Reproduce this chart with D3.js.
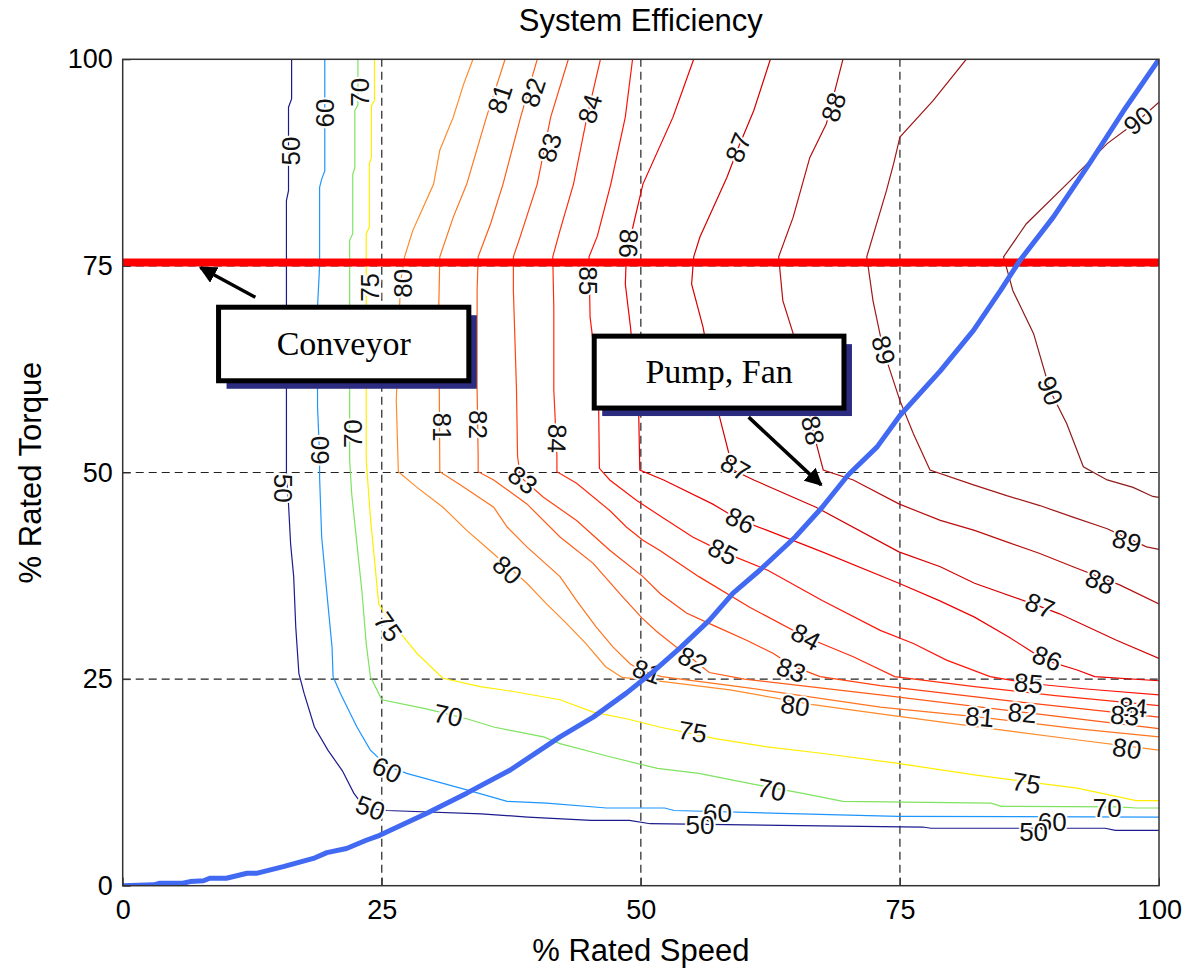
<!DOCTYPE html>
<html>
<head>
<meta charset="utf-8">
<script src="https://cdn.jsdelivr.net/npm/d3@7"></script>
<style>
  html, body { margin: 0; padding: 0; background: #fff; }
  svg { display: block; font-family: "Liberation Sans", Arial, Helvetica, sans-serif; }
</style>
</head>
<body>
<svg id="chart" width="1188" height="970"></svg>
<script>
// ---------------- DATA ----------------
const xTicks = [0, 25, 50, 75, 100];
const yTicks = [0, 25, 50, 75, 100];
const gridValues = [25, 50, 75];

const levels = [50, 60, 70, 75, 80, 81, 82, 83, 84, 85, 86, 87, 88, 89, 90];

const c50 = [[16.3,100],[16.3,95.2],[16.0,94.2],[16.0,84.1],[15.8,82.9],[15.8,50],[16.0,46.2],[16.2,41.4],[16.5,37.4],[16.7,31.3],[17.0,25.7],[17.5,23.3],[18.5,19.2],[19.8,16.4],[21.2,13.9],[22.3,11.2],[23.0,10.0],[24.0,9.3],[25.5,9.1],[34.6,8.7],[39.1,8.3],[45.2,7.9],[48.9,7.9],[50.9,7.5],[63.5,7.3],[77.2,7.1],[78.0,6.95],[94.8,6.95],[95.8,6.7],[100,6.7]];
const c60 = [[19.5,100],[19.5,86.5],[19.2,85.5],[19.0,84.5],[19.0,75],[18.8,70],[18.8,58],[19.0,52],[19.0,49.4],[19.2,42.2],[19.8,34.1],[20.2,28.9],[20.3,25.3],[21.0,23.3],[22.6,19.2],[23.9,16.4],[25.5,14.5],[27.4,13.6],[30.3,12.6],[33.2,11.6],[37.1,10.2],[40.9,10.0],[46.7,9.4],[52.3,9.4],[53.2,9.1],[63.5,8.75],[74.8,8.4],[100,8.3]];
const c70 = [[22.7,100],[22.7,94.5],[22.4,93.8],[22.4,86.9],[22.2,86.1],[22.2,78.9],[21.9,78.1],[21.9,51.5],[22.1,47.4],[22.6,41.4],[23.1,35.4],[23.5,29.3],[23.9,25.3],[25.0,22.5],[29.3,21.4],[33.2,20.2],[35.8,19.2],[40.6,18.0],[42.2,17.2],[47.0,15.6],[51.6,14.2],[55.6,13.6],[61.2,12.2],[65.5,11.2],[69.5,10.2],[83.8,10.0],[84.8,9.6],[96.1,9.55],[97.8,9.4],[100,9.4]];
const c75 = [[24.3,100],[24.3,95],[24.0,94.4],[24.0,88.1],[23.8,87.4],[23.8,79.7],[23.5,78.9],[23.5,51.5],[23.9,44.6],[24.3,39.4],[24.7,34.1],[25.5,32.5],[27.1,30.1],[28.4,28.1],[30.9,25.1],[34.5,24.1],[37.7,23.5],[42.2,22.5],[45.4,21.0],[48.6,20.2],[51.8,19.2],[57.2,17.8],[62.2,16.8],[67.6,16.0],[74.8,14.8],[82.2,13.4],[92.1,11.8],[97.8,10.3],[100,10.3]];
const c80 = [[33.8,100],[32.9,97.0],[31.9,93.0],[30.6,89.0],[30.0,84.9],[29.0,82.1],[28.0,79.3],[27.2,76.1],[26.8,72.9],[26.4,58.7],[26.6,50.1],[28.4,48.2],[30.9,45.8],[33.2,43.0],[35.4,40.6],[39.0,36.6],[40.9,34.1],[42.7,31.9],[44.7,29.3],[46.6,26.5],[48.2,25.2],[52.2,24.7],[58.6,23.7],[66.6,21.9],[73.1,20.8],[82.7,19.2],[92.4,17.6],[100,16.4]];
const c81 = [[36.9,100],[35.1,93.0],[33.2,84.9],[31.9,80.9],[30.6,76.1],[30.5,70],[30.6,50.1],[32.6,48.5],[35.8,45.8],[37.1,43.4],[39.0,41.0],[42.2,37.4],[43.8,34.5],[45.7,31.3],[47.3,28.9],[49.0,26.8],[50.2,26.0],[52.0,25.3],[60.0,24.0],[73.1,21.6],[82.7,20.4],[92.0,19.0],[100,18.0]];
const c82 = [[40.0,100],[38.4,93.0],[36.7,84.9],[35.5,80.1],[34.3,76.1],[34.2,72],[34.2,60],[34.3,52],[34.3,50.1],[35.8,49.1],[39.0,46.2],[42.2,42.2],[45.4,39.0],[48.2,35.0],[50.1,32.4],[51.5,30.8],[53.5,28.8],[55.1,27.3],[56.6,25.8],[60.0,25.0],[73.1,23.1],[86.8,21.0],[100,19.0]];
const c83 = [[43.0,100],[41.3,93.0],[40.0,84.9],[38.4,78.7],[37.7,76.1],[37.7,72],[38.0,60],[38.1,52],[38.3,50.1],[38.7,49.1],[40.6,47.0],[43.8,44.2],[47.0,40.6],[50.2,37.4],[51.9,35.3],[54.4,33.0],[57.0,31.5],[60.2,29.7],[62.8,28.1],[64.6,26.6],[67.3,25.3],[73.1,24.2],[86.0,22.3],[100,20.4]];
const c84 = [[46.1,100],[44.8,93.0],[43.5,84.9],[42.2,79.3],[41.5,76.1],[41.6,70],[41.6,60],[41.9,52],[41.9,50.1],[43.8,48.7],[47.0,45.4],[48.6,43.4],[50.2,41.8],[51.8,40.6],[55.6,37.4],[60.5,33.7],[65.9,30.1],[70.5,27.7],[74.5,25.3],[82.2,24.1],[90.0,23.0],[100,21.8]];
const c85 = [[49.2,100],[48.5,93.0],[47.1,84.9],[45.8,78.6],[45.0,76.1],[45.1,68.8],[45.9,60.7],[46.0,50.5],[47.0,49.1],[49.6,46.6],[51.8,44.8],[55.0,42.2],[57.9,40.4],[62.2,38.2],[67.5,34.5],[73.1,30.9],[76.3,29.3],[79.5,27.3],[83.7,25.3],[87.4,24.5],[93.0,23.8],[100,23.1]];
const c86 = [[55.1,100],[53.1,93.0],[50.2,84.9],[49.3,80.1],[48.6,76.1],[48.5,72.8],[49.0,67.6],[49.8,56.7],[49.9,50.3],[52.2,49.1],[56.9,46.2],[59.6,44.2],[62.2,43.0],[67.5,40.4],[74.9,36.6],[78.8,34.5],[82.2,32.5],[85.5,30.1],[89.0,27.3],[92.1,26.1],[93.8,25.3],[100,24.8]];
const c87 = [[62.5,100],[60.9,93.8],[59.4,89.3],[58.3,85.7],[57.0,82.1],[55.7,78.5],[55.1,76.1],[54.9,72.8],[56.0,67.6],[57.6,56.7],[58.9,50.3],[60.9,49.1],[66.9,45.8],[74.9,40.4],[78.9,38.6],[82.2,36.6],[88.5,33.8],[90.4,32.9],[95.9,29.7],[100,27.5]];
const c88 = [[69.5,100],[67.9,92.2],[66.3,88.1],[64.7,80.9],[63.3,76.1],[63.7,70.8],[64.7,66.8],[65.7,60.8],[66.6,55.1],[67.6,50.3],[70.5,49.1],[74.9,46.2],[78.9,44.2],[82.2,43.0],[85.3,41.6],[88.5,40.2],[91.7,38.6],[96.2,36.4],[100,34.1]];
const c89 = [[81.4,100],[78.2,95.0],[75.0,90.6],[74.4,87.4],[73.7,84.1],[71.8,76.1],[72.4,70.8],[73.4,64.8],[75.0,58.7],[76.3,54.7],[77.9,50.3],[82.1,48.5],[85.3,47.2],[88.5,46.0],[91.7,44.6],[95.0,43.2],[98.8,41.0],[100,40.7]];
const c90 = [[100,94.8],[98.0,92.6],[95.0,89.8],[91.1,84.9],[87.2,80.1],[85.0,76.1],[85.9,72.0],[87.9,66.8],[89.5,59.9],[91.1,55.9],[92.7,50.7],[95.0,49.1],[97.5,48.2],[99.4,47.1],[100,47.0]];
const contourLines = [c50, c60, c70, c75, c80, c81, c82, c83, c84, c85, c86, c87, c88, c89, c90];

// contour labels: level, x, y (data units), rotation in degrees
const labelLevels = [50,60,70,75,80,81,82,83,84,85,86,81,82,84,83,87,86,85,84,83,82,81,80,80,75,75,75,70,70,70,60,60,60,50,50,50,60,70,50,81,82,85,86,84,83,80,87,88,89,87,88,89,88,90,90];
const labelX = [16.2,19.5,22.9,23.9,27.0,36.4,39.6,41.2,45.1,44.9,48.8,30.8,34.3,41.9,38.6,59.1,59.6,57.9,65.9,64.5,55.0,50.6,37.1,64.9,25.6,55.0,87.2,31.4,62.6,95.0,25.5,57.4,89.7,23.9,55.7,87.9,19.0,22.2,15.5,82.7,86.8,87.4,89.2,97.5,96.7,96.9,88.5,94.3,96.9,59.4,68.6,73.4,66.6,89.5,98.0];
const labelY = [88.9,93.5,96.0,72.4,72.9,95.2,96.0,89.3,94.0,73.2,77.7,55.5,55.8,54.1,49.1,50.6,44.2,40.4,30.1,26.1,27.3,25.9,38.2,21.8,31.3,18.6,12.4,20.6,11.6,9.4,14.0,8.8,7.7,9.4,7.3,6.5,52.7,54.7,48.1,20.4,20.9,24.5,27.5,21.6,20.6,16.6,33.9,36.8,41.7,89.3,94.2,64.8,55.1,59.9,92.6];
const labelRot = [-90,-90,-90,-90,-90,-72,-72,-74,-74,90,92,90,90,92,37,30,27,27,28,20,27,20,42,9,55,10,10,12,12,0,25,0,0,20,0,0,-90,-90,90,5,5,5,22,5,5,8,22,22,15,-68,-72,75,77,69,-39];

// Operating lines
const conveyorTorque = 75.4;
const pumpSpeed  = [0,3.0,3.6,5.8,6.5,7.8,8.4,10.0,12.0,12.9,15.5,18.4,19.7,21.6,23.5,24.8,29.3,33.2,37.4,42.2,45.4,48.6,51.0,53.9,56.6,58.9,61.5,64.9,67.5,70.0,72.8,75.0,78.9,82.1,84.7,86.6,89.8,93.3,96.6,100];
const pumpTorque = [0,0.1,0.3,0.3,0.5,0.6,0.9,0.9,1.5,1.5,2.3,3.3,4.0,4.5,5.5,6.1,8.75,11.2,14.0,18.0,20.4,23.3,25.7,28.9,32.1,35.4,38.2,42.2,45.8,49.7,53.1,56.9,62.3,67.2,72.0,75.7,80.9,87.4,93.8,100];

// Annotations (data units)
const annotations = [
  { text: "Conveyor",  x0: 9.25, x1: 33.4, y0: 61.1, y1: 70.0, tail: [12.8, 71.2], tip: [7.5, 74.8] },
  { text: "Pump, Fan", x0: 45.5, x1: 69.6, y0: 57.8, y1: 66.5, tail: [60.4, 56.7], tip: [67.4, 48.5] }
];

const levelColors = ["#1c1c8c","#1e96ff","#7ee35f","#ffee00","#ff8a2a","#ff7420","#ff5c18","#ff4410","#ff2c0c","#ff1408","#ee0000","#d40000","#b80e0e","#a01818","#8c1c1c"];

// ---------------- CHART ----------------
const svg = d3.select("#chart");
const x = d3.scaleLinear().domain([0, 100]).range([122.7, 1159]);
const y = d3.scaleLinear().domain([0, 100]).range([885.7, 59.3]);
const color = d3.scaleOrdinal().domain(levels).range(levelColors);

const defs = svg.append("defs");
defs.append("clipPath").attr("id", "plotclip")
  .append("rect").attr("x", x(0)).attr("y", y(100))
  .attr("width", x(100) - x(0)).attr("height", y(0) - y(100));
defs.append("marker")
  .attr("id", "arrowhead").attr("viewBox", "0 0 10 10")
  .attr("refX", 9).attr("refY", 5)
  .attr("markerWidth", 5).attr("markerHeight", 5)
  .attr("markerUnits", "strokeWidth")
  .attr("orient", "auto")
  .append("path").attr("d", "M0,0 L10,5 L0,10 z").attr("fill", "#000");

const plot = svg.append("g").attr("clip-path", "url(#plotclip)");

// grid (dashed)
plot.selectAll("line.gx").data(gridValues).join("line")
  .attr("class", "gx")
  .attr("x1", d => x(d)).attr("x2", d => x(d))
  .attr("y1", y(0)).attr("y2", y(100))
  .attr("stroke", "#222").attr("stroke-width", 1.2).attr("stroke-dasharray", "8,5");
plot.selectAll("line.gy").data(gridValues).join("line")
  .attr("class", "gy")
  .attr("y1", d => y(d)).attr("y2", d => y(d))
  .attr("x1", x(0)).attr("x2", x(100))
  .attr("stroke", "#222").attr("stroke-width", 1.2).attr("stroke-dasharray", "8,5");

// contour lines
const line = d3.line().x(d => x(d[0])).y(d => y(d[1]));
plot.selectAll("path.contour").data(contourLines).join("path")
  .attr("class", "contour")
  .attr("d", line)
  .attr("fill", "none")
  .attr("stroke", (d, i) => color(levels[i]))
  .attr("stroke-width", 1.2);

// contour labels
const labels = labelLevels.map((lv, i) => ({ lv, x: labelX[i], y: labelY[i], r: labelRot[i] }));
plot.selectAll("text.clabel").data(labels).join("text")
  .attr("class", "clabel")
  .attr("transform", d => `translate(${x(d.x)},${y(d.y)}) rotate(${d.r})`)
  .attr("text-anchor", "middle")
  .attr("dominant-baseline", "central")
  .attr("font-size", 26)
  .attr("fill", "#111")
  .attr("stroke", "#fff").attr("stroke-width", 4).attr("paint-order", "stroke")
  .text(d => d.lv);

// conveyor (constant torque) line
plot.append("line")
  .attr("x1", x(0)).attr("x2", x(100))
  .attr("y1", y(conveyorTorque)).attr("y2", y(conveyorTorque))
  .attr("stroke", "#ff0000").attr("stroke-width", 8);

// pump / fan line
const pumpPts = pumpSpeed.map((s, i) => [s, pumpTorque[i]]);
plot.append("path").datum(pumpPts)
  .attr("d", line)
  .attr("fill", "none")
  .attr("stroke", "#4169f2").attr("stroke-width", 5)
  .attr("stroke-linejoin", "round").attr("stroke-linecap", "round");

// frame
svg.append("rect")
  .attr("x", x(0)).attr("y", y(100))
  .attr("width", x(100) - x(0)).attr("height", y(0) - y(100))
  .attr("fill", "none").attr("stroke", "#333").attr("stroke-width", 1.5);

// axes
const xAxis = d3.axisBottom(x).tickValues(xTicks).tickSizeInner(-8).tickSizeOuter(0).tickPadding(14);
const yAxis = d3.axisLeft(y).tickValues(yTicks).tickSizeInner(-8).tickSizeOuter(0).tickPadding(10);
const gx = svg.append("g").attr("transform", `translate(0,${y(0)})`).call(xAxis);
const gy = svg.append("g").attr("transform", `translate(${x(0)},0)`).call(yAxis);
[gx, gy].forEach(g => {
  g.attr("font-family", null);
  g.select(".domain").remove();
  g.selectAll(".tick line").attr("stroke", "#333").attr("stroke-width", 1);
  g.selectAll(".tick text").attr("font-size", 27).attr("fill", "#000")
    .style("font-family", "'Liberation Sans', Arial, sans-serif");
});

// titles
svg.append("text").attr("x", (x(0) + x(100)) / 2).attr("y", 31)
  .attr("text-anchor", "middle").attr("font-size", 31).attr("fill", "#000")
  .text("System Efficiency");
svg.append("text").attr("x", (x(0) + x(100)) / 2).attr("y", 961)
  .attr("text-anchor", "middle").attr("font-size", 31).attr("fill", "#000")
  .text("% Rated Speed");
svg.append("text")
  .attr("transform", `translate(41,${(y(0) + y(100)) / 2}) rotate(-90)`)
  .attr("text-anchor", "middle").attr("font-size", 31).attr("fill", "#000")
  .text("% Rated Torque");

// annotations: arrows and boxes
const ann = svg.append("g");
annotations.forEach(a => {
  ann.append("line")
    .attr("x1", x(a.tail[0])).attr("y1", y(a.tail[1]))
    .attr("x2", x(a.tip[0])).attr("y2", y(a.tip[1]))
    .attr("stroke", "#000").attr("stroke-width", 3.5)
    .attr("marker-end", "url(#arrowhead)");
  const bx = x(a.x0), by = y(a.y1), bw = x(a.x1) - x(a.x0), bh = y(a.y0) - y(a.y1);
  ann.append("rect").attr("x", bx + 8).attr("y", by + 8).attr("width", bw).attr("height", bh)
    .attr("fill", "#2b2b80");
  ann.append("rect").attr("x", bx).attr("y", by).attr("width", bw).attr("height", bh)
    .attr("fill", "#fff").attr("stroke", "#000").attr("stroke-width", 5);
  ann.append("text").attr("x", bx + bw / 2).attr("y", by + bh / 2 + 11)
    .attr("text-anchor", "middle")
    .style("font-family", "'Liberation Serif', 'Times New Roman', serif")
    .attr("font-size", 34).attr("fill", "#000")
    .text(a.text);
});
</script>
</body>
</html>
